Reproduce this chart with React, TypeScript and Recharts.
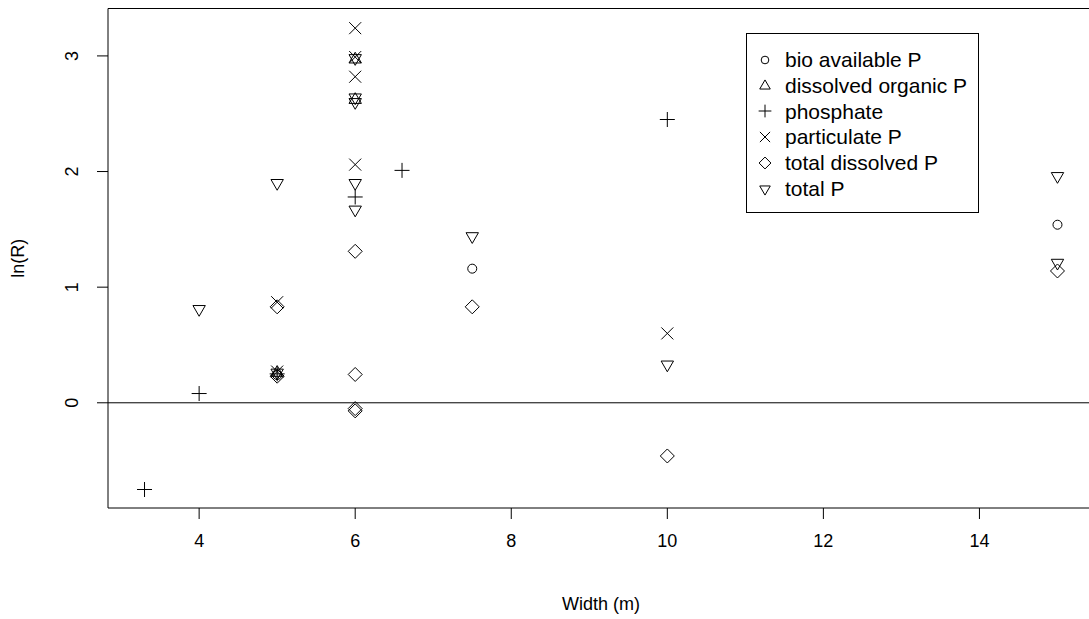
import React from "react";
import {
  ReferenceArea,
  ReferenceLine,
  Scatter,
  ScatterChart,
  XAxis,
  YAxis,
  Label,
} from "recharts";

// Stream width (m) vs ln(R), one list pair per phosphorus fraction
const bioAvailableX = [5, 7.5, 15];
const bioAvailableY = [0.24, 1.16, 1.54];

const dissolvedOrganicX = [5, 6, 6];
const dissolvedOrganicY = [0.26, 2.97, 2.62];

const phosphateX = [3.3, 4, 5, 6, 6.6, 10];
const phosphateY = [-0.75, 0.08, 0.25, 1.78, 2.01, 2.45];

const particulateX = [5, 5, 6, 6, 6, 6, 10];
const particulateY = [0.87, 0.27, 3.24, 2.99, 2.82, 2.06, 0.6];

const totalDissolvedX = [5, 5, 6, 6, 6, 6, 7.5, 10, 15];
const totalDissolvedY = [0.83, 0.23, 1.31, 0.245, -0.05, -0.07, 0.83, -0.46, 1.14];

const totalPX = [4, 5, 5, 6, 6, 6, 6, 6, 7.5, 10, 15, 15];
const totalPY = [0.81, 1.9, 0.26, 2.98, 2.64, 2.6, 1.9, 1.67, 1.44, 0.33, 1.96, 1.21];

const xTicks = [4, 6, 8, 10, 12, 14];
const yTicks = [0, 1, 2, 3];
const xDomain = [2.832, 15.468];
const yDomain = [-0.91, 3.41];

type Kind = "circle" | "up" | "plus" | "cross" | "diamond" | "down";

const series: { name: string; kind: Kind; xs: number[]; ys: number[] }[] = [
  { name: "bio available P", kind: "circle", xs: bioAvailableX, ys: bioAvailableY },
  { name: "dissolved organic P", kind: "up", xs: dissolvedOrganicX, ys: dissolvedOrganicY },
  { name: "phosphate", kind: "plus", xs: phosphateX, ys: phosphateY },
  { name: "particulate P", kind: "cross", xs: particulateX, ys: particulateY },
  { name: "total dissolved P", kind: "diamond", xs: totalDissolvedX, ys: totalDissolvedY },
  { name: "total P", kind: "down", xs: totalPX, ys: totalPY },
];

const FONT = "'Liberation Sans', Arial, sans-serif";
const INK = "#000";

function Marker({ kind, cx, cy, s = 1 }: { kind: Kind; cx: number; cy: number; s?: number }) {
  const common = { fill: "none", stroke: INK, strokeWidth: 1 };
  if (kind === "circle") return <circle cx={cx} cy={cy} r={4.5 * s} {...common} />;
  if (kind === "plus") {
    const h = 7.5 * s;
    return (
      <path d={`M${cx - h},${cy}H${cx + h}M${cx},${cy - h}V${cy + h}`} {...common} />
    );
  }
  if (kind === "cross") {
    const h = 6 * s;
    return (
      <path
        d={`M${cx - h},${cy - h}L${cx + h},${cy + h}M${cx - h},${cy + h}L${cx + h},${cy - h}`}
        {...common}
      />
    );
  }
  if (kind === "diamond") {
    const h = 7 * s;
    return (
      <path d={`M${cx},${cy - h}L${cx + h},${cy}L${cx},${cy + h}L${cx - h},${cy}Z`} {...common} />
    );
  }
  // triangles: apex 7.15 from centre, base 3.58 on the other side, half-width 6.2
  const r = 7.15 * s;
  const yc = 3.58 * s;
  const xc = 6.2 * s;
  const dir = kind === "up" ? 1 : -1;
  return (
    <path
      d={`M${cx},${cy - dir * r}L${cx + xc},${cy + dir * yc}L${cx - xc},${cy + dir * yc}Z`}
      {...common}
    />
  );
}

function XTick(props: any) {
  const { x, y, payload } = props;
  return (
    <text x={x} y={y + 26} textAnchor="middle" fontFamily={FONT} fontSize={18} fill={INK}>
      {payload.value}
    </text>
  );
}

function YTick(props: any) {
  const { x, y, payload } = props;
  const tx = x - 23;
  return (
    <text
      x={tx}
      y={y}
      transform={`rotate(-90, ${tx}, ${y})`}
      textAnchor="middle"
      dominantBaseline="central"
      fontFamily={FONT}
      fontSize={18}
      fill={INK}
    >
      {payload.value}
    </text>
  );
}

function LegendBox() {
  return (
    <div
      style={{
        position: "absolute",
        left: 746,
        top: 33,
        border: `1px solid ${INK}`,
        width: 233,
        height: 180,
        boxSizing: "border-box",
        padding: "13px 0 0 8px",
        background: "#fff",
        fontFamily: FONT,
        fontSize: 21,
        lineHeight: "25.8px",
        color: INK,
      }}
    >
      {series.map((s) => (
        <div key={s.name} style={{ display: "flex", alignItems: "center", height: 25.8 }}>
          <svg width={20} height={20} style={{ marginRight: 10 }}>
            <Marker kind={s.kind} cx={10} cy={10} s={0.85} />
          </svg>
          <span>{s.name}</span>
        </div>
      ))}
    </div>
  );
}

export default function App() {
  return (
    <div
      style={{
        position: "absolute",
        left: 0,
        top: 0,
        width: 1089,
        height: 619,
        overflow: "hidden",
        background: "#fff",
      }}
    >
      <ScatterChart width={1094} height={619} margin={{ top: 8.5, right: 0, bottom: 0, left: 0 }}>
        <XAxis
          type="number"
          dataKey="x"
          domain={xDomain}
          ticks={xTicks}
          allowDataOverflow
          height={111}
          axisLine={false}
          tickSize={11}
          tickLine={{ stroke: INK }}
          tick={<XTick />}
        >
          <Label
            value="Width (m)"
            position="insideBottom"
            offset={9}
            style={{ fontFamily: FONT, fontSize: 18, fill: INK }}
          />
        </XAxis>
        <YAxis
          type="number"
          dataKey="y"
          domain={yDomain}
          ticks={yTicks}
          allowDataOverflow
          width={108}
          axisLine={false}
          tickSize={11}
          tickLine={{ stroke: INK }}
          tick={<YTick />}
        >
          <Label
            value="ln(R)"
            angle={-90}
            position="insideLeft"
            offset={18}
            style={{ fontFamily: FONT, fontSize: 18, fill: INK, textAnchor: "middle" }}
          />
        </YAxis>
        <ReferenceArea
          x1={xDomain[0]}
          x2={xDomain[1]}
          y1={yDomain[0]}
          y2={yDomain[1]}
          fill="none"
          stroke={INK}
          strokeWidth={1}
          ifOverflow="visible"
        />
        <ReferenceLine y={0} stroke={INK} strokeWidth={1} />
        {series.map((s) => (
          <Scatter
            key={s.name}
            name={s.name}
            data={s.xs.map((x, i) => ({ x, y: s.ys[i] }))}
            isAnimationActive={false}
            shape={(p: any) => <Marker kind={s.kind} cx={p.cx} cy={p.cy} />}
          />
        ))}
      </ScatterChart>
      <LegendBox />
    </div>
  );
}
